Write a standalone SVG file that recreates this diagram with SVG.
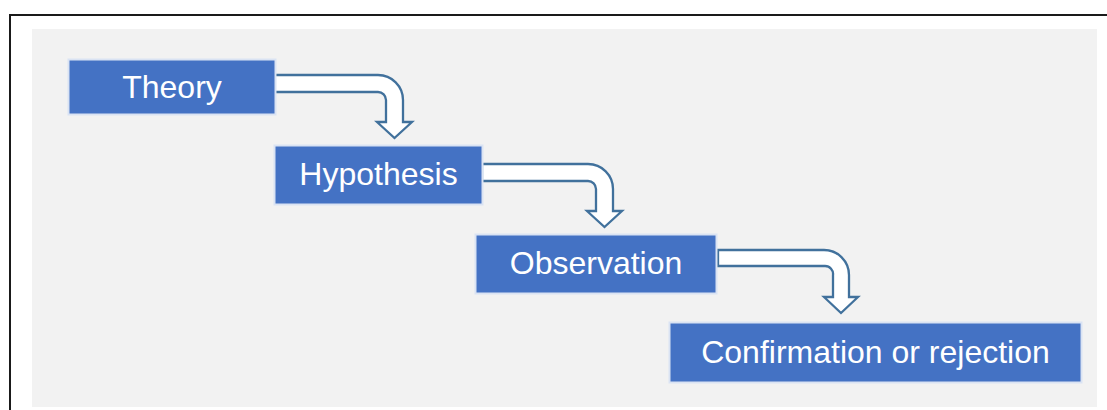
<svg xmlns="http://www.w3.org/2000/svg" width="1107" height="410" viewBox="0 0 1107 410">
  <style>
    .frame { fill: #ffffff; stroke: #1a1a1a; stroke-width: 2; }
    .panel { fill: #f2f2f2; }
    .box { fill: #4472c4; stroke: #dae3f3; stroke-width: 2; }
    .label { fill: #ffffff; font-family: "Liberation Sans", Arial, sans-serif; font-size: 32px; text-anchor: middle; }
    .bent { fill: #ffffff; stroke: #41719c; stroke-width: 2.3; stroke-linejoin: miter; }
  </style>

  <!-- outer frame and background panel -->
  <rect class="frame" x="10" y="15" width="1110" height="410"/>
  <rect class="panel" x="32" y="29" width="1065" height="378"/>

  <!-- bent arrows between the steps -->
  <g id="connectors">
    <path class="bent" d="M 272 75 H 378 A 25 25 0 0 1 403 100 V 122 H 412 L 394.5 138 L 377 122 H 386 V 100 A 8 8 0 0 0 378 92 H 272 Z"/>
    <path class="bent" d="M 482 164 H 588 A 25 25 0 0 1 613 189 V 211 H 622 L 604.5 227 L 587 211 H 596 V 189 A 8 8 0 0 0 588 181 H 482 Z"/>
    <path class="bent" d="M 718 250 H 824 A 25 25 0 0 1 849 275 V 297 H 858 L 841 313 L 824 297 H 833 V 275 A 8 8 0 0 0 825 266 H 718 Z"/>
  </g>

  <g id="theory">
    <rect class="box" x="68.5" y="59.5" width="207" height="55"/>
    <text class="label" x="172" y="97.5">Theory</text>
  </g>

  <g id="hypothesis">
    <rect class="box" x="274.5" y="145.5" width="208" height="59"/>
    <text class="label" x="378.5" y="184.5">Hypothesis</text>
  </g>

  <g id="observation">
    <rect class="box" x="475.5" y="234.5" width="241" height="59"/>
    <text class="label" x="596" y="274">Observation</text>
  </g>

  <g id="confirmation">
    <rect class="box" x="669.5" y="322.5" width="412" height="60"/>
    <text class="label" x="875.5" y="362.5">Confirmation or rejection</text>
  </g>
</svg>
